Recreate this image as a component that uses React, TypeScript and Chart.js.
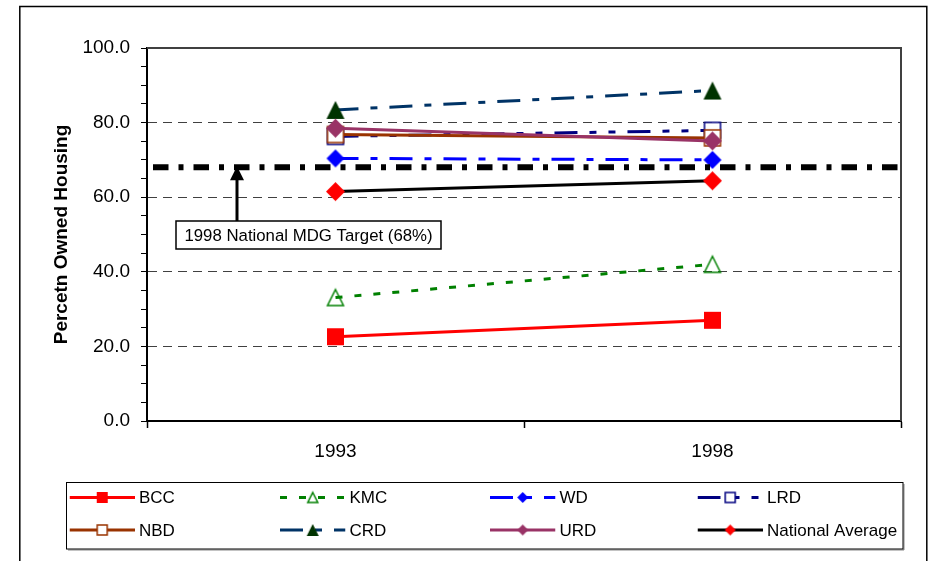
import React, { useEffect, useRef } from "react";
import { Chart, registerables } from "chart.js";

Chart.register(...registerables);

// ---------- DATA ----------
const categories = ["1993", "1998"];
const bcc = [22.6, 27.0];
const kmc = [33.1, 42.0];
const wd = [70.4, 70.0];
const lrd = [76.3, 77.9];
const nbd = [76.8, 75.9];
const crd = [83.4, 88.6];
const urd = [78.5, 75.1];
const nationalAverage = [61.5, 64.4];
const mdgTarget = 68;
const mdgLabel = "1998 National MDG Target (68%)";
const yTickLabels = [0, 20, 40, 60, 80, 100];
const yAxisTitle = "Percetn Owned Housing";

const FONT = '"Liberation Sans", Arial, sans-serif';

type Shape = "square" | "diamond" | "triangle";

function makeMarker(shape: Shape, size: number, fill: string, stroke: string, lw: number) {
  const pad = Math.ceil(lw) + 2;
  const dim = Math.ceil(size) + pad * 2;
  const c = document.createElement("canvas");
  c.width = dim;
  c.height = dim;
  const ctx = c.getContext("2d")!;
  const cx = dim / 2;
  const cy = dim / 2;
  const h = size / 2;
  ctx.beginPath();
  if (shape === "square") {
    ctx.rect(cx - h, cy - h, size, size);
  } else if (shape === "diamond") {
    ctx.moveTo(cx, cy - h);
    ctx.lineTo(cx + h, cy);
    ctx.lineTo(cx, cy + h);
    ctx.lineTo(cx - h, cy);
    ctx.closePath();
  } else {
    ctx.moveTo(cx, cy - h);
    ctx.lineTo(cx + h, cy + h);
    ctx.lineTo(cx - h, cy + h);
    ctx.closePath();
  }
  if (fill) {
    ctx.fillStyle = fill;
    ctx.fill();
  }
  if (stroke && lw > 0) {
    ctx.lineWidth = lw;
    ctx.strokeStyle = stroke;
    ctx.stroke();
  }
  return c;
}

interface SeriesDef {
  label: string;
  data: number[];
  color: string;
  dash: number[];
  shape: Shape;
  fill: string;
  stroke: string;
  lw: number;
  size: number;
  legendSize: number;
}

const series: SeriesDef[] = [
  { label: "BCC", data: bcc, color: "#FF0000", dash: [], shape: "square", fill: "#FF0000", stroke: "", lw: 0, size: 17, legendSize: 11 },
  { label: "KMC", data: kmc, color: "#008000", dash: [7, 12], shape: "triangle", fill: "", stroke: "#008000", lw: 1.5, size: 16, legendSize: 10 },
  { label: "WD", data: wd, color: "#0000FF", dash: [23, 12, 7, 12], shape: "diamond", fill: "#0000FF", stroke: "", lw: 0, size: 18, legendSize: 11 },
  { label: "LRD", data: lrd, color: "#000080", dash: [23, 12, 7, 12, 7, 12], shape: "square", fill: "#FFFFFF", stroke: "#000080", lw: 1.5, size: 16, legendSize: 10 },
  { label: "NBD", data: nbd, color: "#993300", dash: [], shape: "square", fill: "#FFFFFF", stroke: "#993300", lw: 1.5, size: 16, legendSize: 10 },
  { label: "CRD", data: crd, color: "#003366", dash: [23, 12, 7, 12], shape: "triangle", fill: "#003300", stroke: "", lw: 0, size: 18, legendSize: 12 },
  { label: "URD", data: urd, color: "#993366", dash: [], shape: "diamond", fill: "#993366", stroke: "", lw: 0, size: 19, legendSize: 11 },
  { label: "National Average", data: nationalAverage, color: "#000000", dash: [], shape: "diamond", fill: "#FF0000", stroke: "", lw: 0, size: 19, legendSize: 11 },
];

export default function App() {
  const ref = useRef<HTMLCanvasElement | null>(null);

  useEffect(() => {
    const canvas = ref.current;
    if (!canvas) return;

    const markers = series.map((s) => makeMarker(s.shape, s.size, s.fill, s.stroke, s.lw));
    const legendMarkers = series.map((s) => makeMarker(s.shape, s.legendSize, s.fill, s.stroke, s.lw));

    const decorations = {
      id: "decorations",
      beforeDraw(chart: any) {
        const ctx = chart.ctx;
        ctx.save();
        ctx.fillStyle = "#FFFFFF";
        ctx.fillRect(0, 0, chart.width, chart.height);
        ctx.restore();
      },
      beforeDatasetsDraw(chart: any) {
        const ctx = chart.ctx;
        const a = chart.chartArea;
        ctx.save();
        ctx.strokeStyle = "#404040";
        ctx.lineWidth = 2;
        ctx.beginPath();
        ctx.moveTo(a.left, a.top);
        ctx.lineTo(a.right, a.top);
        ctx.lineTo(a.right, a.bottom);
        ctx.stroke();
        ctx.restore();
      },
      afterDatasetsDraw(chart: any) {
        const ctx = chart.ctx;
        const a = chart.chartArea;
        const y = chart.scales.y.getPixelForValue(mdgTarget);
        // MDG target line
        ctx.save();
        ctx.strokeStyle = "#000000";
        ctx.lineWidth = 6;
        ctx.lineCap = "butt";
        ctx.setLineDash([15.5, 10, 5, 10]);
        ctx.beginPath();
        ctx.moveTo(a.left + 6, y);
        ctx.lineTo(a.right, y);
        ctx.stroke();
        ctx.restore();

        // Annotation box
        const bx = 176, by = 221, bw = 265, bh = 28;
        const ax = 237;
        ctx.save();
        ctx.strokeStyle = "#000000";
        ctx.fillStyle = "#000000";
        ctx.lineWidth = 3;
        ctx.beginPath();
        ctx.moveTo(ax, by);
        ctx.lineTo(ax, y + 10);
        ctx.stroke();
        ctx.beginPath();
        ctx.moveTo(ax, y - 1);
        ctx.lineTo(ax + 7, y + 13);
        ctx.lineTo(ax - 7, y + 13);
        ctx.closePath();
        ctx.fill();
        ctx.fillStyle = "#FFFFFF";
        ctx.fillRect(bx, by, bw, bh);
        ctx.lineWidth = 1.5;
        ctx.strokeRect(bx, by, bw, bh);
        ctx.fillStyle = "#000000";
        ctx.font = `16.8px ${FONT}`;
        ctx.textAlign = "center";
        ctx.textBaseline = "middle";
        ctx.fillText(mdgLabel, bx + bw / 2, by + bh / 2 + 1);
        ctx.restore();
      },
      afterDraw(chart: any) {
        const ctx = chart.ctx;
        ctx.save();
        // outer border
        ctx.strokeStyle = "#000000";
        ctx.lineWidth = 1.5;
        ctx.strokeRect(19.8, 6.5, 907, 600);

        // legend box
        const lx = 66.5, ly = 482.5, lw = 836.5, lh = 66.5;
        ctx.strokeStyle = "#888888";
        ctx.lineWidth = 1;
        ctx.beginPath();
        ctx.moveTo(lx + 1.5, ly + lh + 1);
        ctx.lineTo(lx + lw + 1, ly + lh + 1);
        ctx.lineTo(lx + lw + 1, ly + 1.5);
        ctx.stroke();
        ctx.strokeStyle = "#000000";
        ctx.strokeRect(lx, ly, lw, lh);

        const colX = [69.5, 280, 490, 697.5];
        const rowY = [497.5, 530];
        const sampleLen = 65.5;
        series.forEach((s, i) => {
          const col = i % 4;
          const row = Math.floor(i / 4);
          const x0 = colX[col];
          const yy = rowY[row];
          ctx.save();
          ctx.beginPath();
          ctx.rect(x0, yy - 10, sampleLen, 20);
          ctx.clip();
          ctx.strokeStyle = s.color;
          ctx.lineWidth = 3;
          ctx.setLineDash(s.dash);
          ctx.beginPath();
          ctx.moveTo(x0, yy);
          ctx.lineTo(x0 + sampleLen, yy);
          ctx.stroke();
          ctx.restore();
          const m = legendMarkers[i];
          ctx.drawImage(m, x0 + sampleLen / 2 - m.width / 2, yy - m.height / 2);
          ctx.fillStyle = "#000000";
          ctx.font = `17px ${FONT}`;
          ctx.textAlign = "left";
          ctx.textBaseline = "middle";
          ctx.fillText(s.label, x0 + sampleLen + 4, yy + 1);
        });
        ctx.restore();
      },
    };

    const chart = new Chart(canvas, {
      type: "line",
      data: {
        labels: categories,
        datasets: series.map((s, i) => ({
          label: s.label,
          data: s.data,
          borderColor: s.color,
          backgroundColor: s.color,
          borderWidth: 3,
          borderDash: s.dash,
          pointStyle: markers[i] as any,
          pointRadius: 9,
          pointHoverRadius: 9,
          fill: false,
          tension: 0,
          order: series.length - i,
        })),
      },
      options: {
        animation: false,
        responsive: false,
        events: [],
        layout: { padding: { left: 0, top: 48, right: 27, bottom: 100 } },
        plugins: {
          legend: { display: false },
          tooltip: { enabled: false },
          title: { display: false },
        },
        scales: {
          x: {
            type: "category",
            offset: true,
            grid: {
              offset: true,
              drawOnChartArea: false,
              drawTicks: true,
              tickLength: 7,
              tickColor: "#000000",
              tickWidth: 1.5,
            },
            border: { display: true, color: "#000000", width: 2 },
            ticks: {
              color: "#000000",
              font: { family: FONT, size: 19 },
              padding: 12,
              maxRotation: 0,
            },
            afterFit: (scale: any) => {
              scale.height = 40;
            },
          },
          y: {
            type: "linear",
            min: 0,
            max: 100,
            grid: {
              color: (ctx: any) =>
                ctx.tick && ctx.tick.value > 0 && ctx.tick.value < 100 && ctx.tick.value % 20 === 0
                  ? "#404040"
                  : "rgba(0,0,0,0)",
              lineWidth: 1,
              drawTicks: true,
              tickLength: 6,
              tickColor: "#000000",
              tickWidth: 1,
            },
            border: { display: true, color: "#000000", width: 2, dash: [9, 6] },
            ticks: {
              stepSize: 5,
              autoSkip: false,
              color: "#000000",
              font: { family: FONT, size: 19 },
              padding: 11,
              callback: (v: any) => (yTickLabels.includes(Number(v)) ? Number(v).toFixed(1) : ""),
            },
            title: {
              display: true,
              text: yAxisTitle,
              color: "#000000",
              font: { family: FONT, size: 19, weight: "bold" },
              padding: { top: 50, bottom: 0 },
            },
            afterFit: (scale: any) => {
              scale.width = 147;
            },
          },
        },
      },
      plugins: [decorations],
    });

    return () => {
      chart.destroy();
    };
  }, []);

  return (
    <div style={{ position: "absolute", left: 0, top: 0, width: 928, height: 561, background: "#fff" }}>
      <canvas ref={ref} width={928} height={561} style={{ display: "block", width: 928, height: 561 }} />
    </div>
  );
}
